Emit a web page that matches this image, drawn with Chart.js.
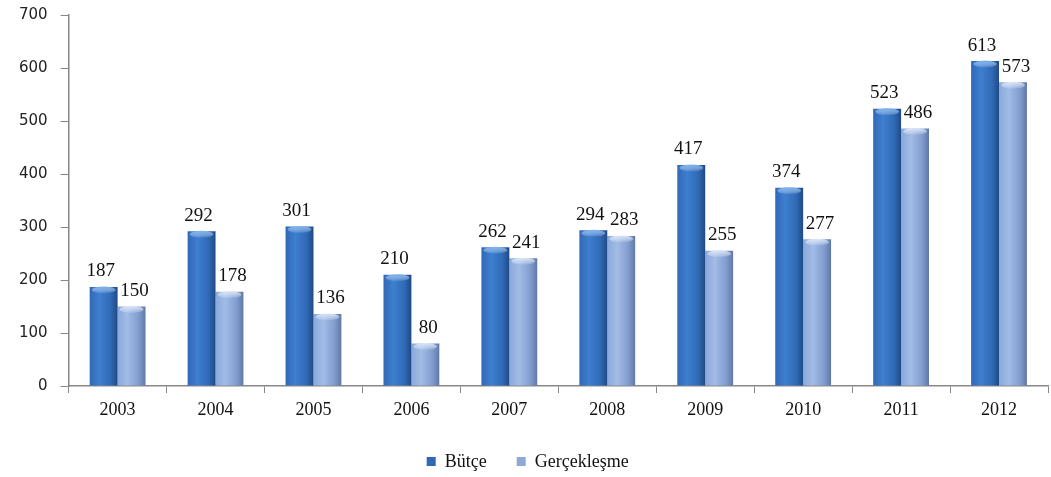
<!DOCTYPE html>
<html>
<head>
<meta charset="utf-8">
<script src="https://cdn.jsdelivr.net/npm/chart.js@4/dist/chart.umd.min.js"></script>
<style>
  html, body { margin: 0; padding: 0; background: #fff; }
  #wrap { width: 1051px; height: 477px; }
</style>
</head>
<body>
<div id="wrap"><canvas id="budget-chart" width="1051" height="477"></canvas></div>
<script>
const years = ["2003", "2004", "2005", "2006", "2007", "2008", "2009", "2010", "2011", "2012"];
const butce = [187, 292, 301, 210, 262, 294, 417, 374, 523, 613];
const gerceklesme = [150, 178, 136, 80, 241, 283, 255, 277, 486, 573];
const yTicks = [0, 100, 200, 300, 400, 500, 600, 700];

const CAT_PCT = 0.57;
const SERIF = "'Liberation Serif', 'Times New Roman', serif";
const SWATCH = ["#3068b3", "#8ea9d6"];

// horizontal gradient to fake the rounded 3D look of the bars
function barGradient(ctx, dark) {
    const chart = ctx.chart;
    const xs = chart.scales.x;
    if (!chart.chartArea || !xs || ctx.dataIndex === undefined) return dark ? SWATCH[0] : SWATCH[1];
    const center = xs.getPixelForValue(ctx.dataIndex);
    const barW = (xs.width / years.length) * CAT_PCT / 2;
    const x0 = dark ? center - barW : center;
    const x1 = x0 + barW;
    const g = chart.ctx.createLinearGradient(x0, 0, x1, 0);
    if (dark) {
        g.addColorStop(0, "#3068b5");
        g.addColorStop(0.35, "#3e7fd0");
        g.addColorStop(0.75, "#2f6ab6");
        g.addColorStop(1, "#1f4a85");
    } else {
        g.addColorStop(0, "#8aa8da");
        g.addColorStop(0.35, "#a2bce6");
        g.addColorStop(0.75, "#819dcf");
        g.addColorStop(1, "#6078a5");
    }
    return g;
}

// light cap on top of each bar + value labels
const barExtras = {
    id: "barExtras",
    afterDatasetsDraw(chart) {
        const c = chart.ctx;
        chart.data.datasets.forEach((ds, i) => {
            const meta = chart.getDatasetMeta(i);
            meta.data.forEach((bar, j) => {
                const w = bar.width;
                c.save();
                const hg = c.createLinearGradient(0, bar.y, 0, bar.y + 7);
                hg.addColorStop(0, i === 0 ? "rgba(125,178,240,0.9)" : "rgba(218,230,250,0.9)");
                hg.addColorStop(1, "rgba(255,255,255,0)");
                c.fillStyle = hg;
                c.beginPath();
                c.ellipse(bar.x, bar.y + 3, w / 2 - 2, 3.5, 0, 0, Math.PI * 2);
                c.fill();
                c.restore();

                c.save();
                c.font = "19px " + SERIF;
                c.fillStyle = "#111";
                c.textAlign = "center";
                c.textBaseline = "bottom";
                const dx = i === 0 ? -3 : 3;
                c.fillText(String(ds.data[j]), bar.x + dx, bar.y - 6);
                c.restore();
            });
        });
    }
};

// legend drawn by hand so the spacing can follow the original
const bottomLegend = {
    id: "bottomLegend",
    afterDraw(chart) {
        const c = chart.ctx;
        c.save();
        c.font = "18px " + SERIF;
        c.textBaseline = "middle";
        const y = chart.height - 15;
        let x = chart.width * 0.406;
        chart.data.datasets.forEach((ds, i) => {
            c.fillStyle = SWATCH[i];
            c.fillRect(x, y - 5, 9, 9);
            x += 18;
            c.fillStyle = "#111";
            c.fillText(ds.label, x, y);
            x += c.measureText(ds.label).width + 30;
        });
        c.restore();
    }
};

new Chart("budget-chart", {
    type: "bar",
    data: {
        labels: years,
        datasets: [
            {
                label: "Bütçe",
                data: butce,
                backgroundColor: ctx => barGradient(ctx, true),
                borderWidth: 0,
                categoryPercentage: CAT_PCT,
                barPercentage: 1.0
            },
            {
                label: "Gerçekleşme",
                data: gerceklesme,
                backgroundColor: ctx => barGradient(ctx, false),
                borderWidth: 0,
                categoryPercentage: CAT_PCT,
                barPercentage: 1.0
            }
        ]
    },
    options: {
        responsive: false,
        animation: false,
        layout: { padding: { left: 6, right: 3, top: 15, bottom: 51 } },
        plugins: {
            legend: { display: false },
            tooltip: { enabled: false }
        },
        scales: {
            x: {
                afterFit(scale) {
                    scale.height = 40;
                },
                grid: {
                    offset: true,
                    drawOnChartArea: false,
                    drawTicks: true,
                    tickLength: 7,
                    color: "#888"
                },
                border: { color: "#888", width: 1.5 },
                ticks: {
                    color: "#111",
                    padding: 6,
                    font: { family: SERIF, size: 18 }
                }
            },
            y: {
                min: 0,
                max: 700,
                afterBuildTicks(axis) {
                    axis.ticks = yTicks.map(v => ({ value: v }));
                },
                afterFit(scale) {
                    scale.paddingTop = 9;
                    scale.paddingBottom = 9;
                },
                grid: {
                    drawOnChartArea: false,
                    tickLength: 8,
                    color: "#888"
                },
                border: { color: "#888", width: 1.5 },
                ticks: {
                    color: "#222",
                    padding: 13,
                    font: { family: "'DejaVu Sans', sans-serif", size: 15 }
                }
            }
        }
    },
    plugins: [barExtras, bottomLegend]
});
</script>
</body>
</html>
